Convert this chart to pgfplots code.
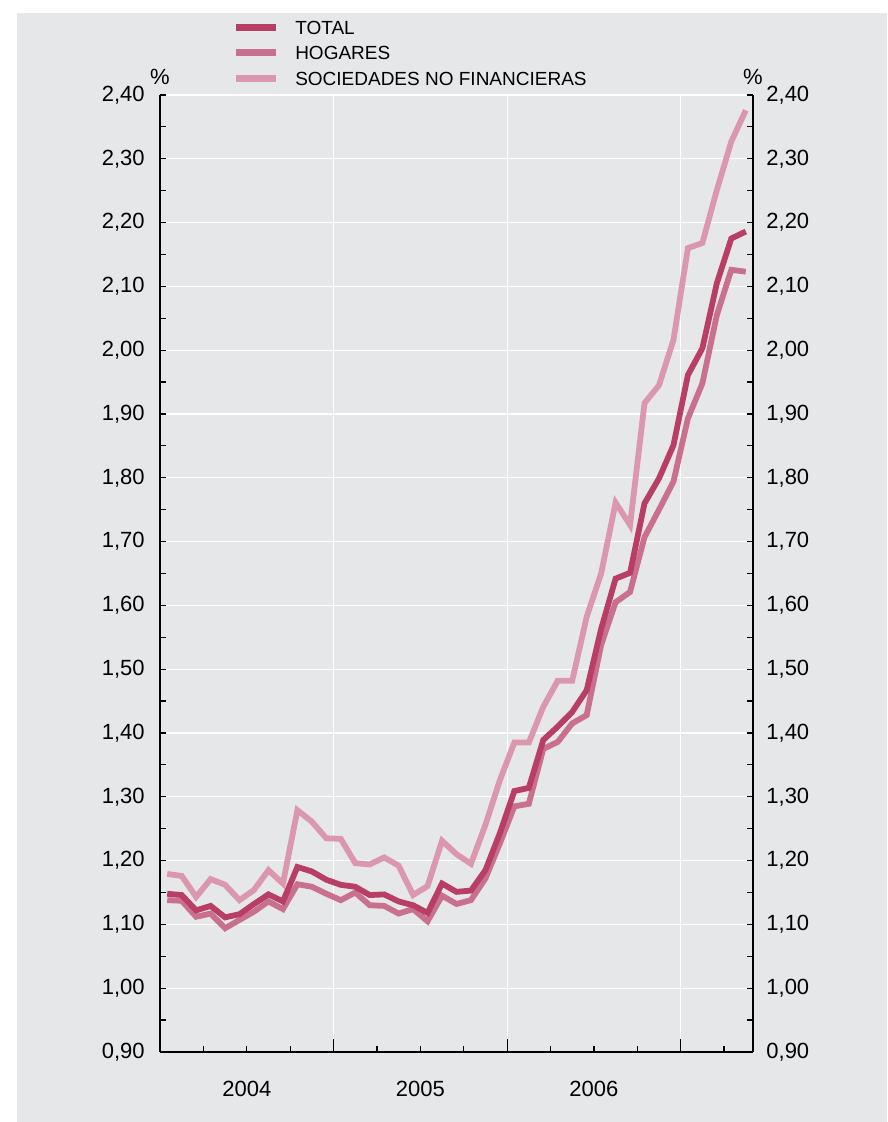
\documentclass[border=0pt]{standalone}
\usepackage{fontspec}
\setmainfont{Liberation Sans}
\usepackage{pgfplots}
\usepackage{pgfplotstable}
\pgfplotsset{compat=1.18}
\definecolor{bg}{HTML}{E6E7E8}
\definecolor{ctot}{HTML}{B83E65}
\definecolor{chog}{HTML}{C9708E}
\definecolor{csoc}{HTML}{DB97AE}

\pgfplotstableread{
x     tot    hog    soc
0.5   1.148  1.138  1.179
1.5   1.146  1.137  1.176
2.5   1.122  1.112  1.143
3.5   1.129  1.117  1.171
4.5   1.111  1.094  1.162
5.5   1.116  1.107  1.138
6.5   1.132  1.120  1.154
7.5   1.147  1.136  1.185
8.5   1.136  1.124  1.164
9.5   1.190  1.163  1.279
10.5  1.183  1.159  1.261
11.5  1.170  1.148  1.235
12.5  1.162  1.138  1.234
13.5  1.159  1.150  1.196
14.5  1.146  1.130  1.194
15.5  1.147  1.129  1.205
16.5  1.136  1.117  1.192
17.5  1.130  1.124  1.146
18.5  1.118  1.105  1.160
19.5  1.164  1.145  1.231
20.5  1.151  1.132  1.210
21.5  1.153  1.138  1.195
22.5  1.185  1.172  1.256
23.5  1.243  1.227  1.326
24.5  1.309  1.285  1.385
25.5  1.314  1.289  1.385
26.5  1.389  1.375  1.441
27.5  1.410  1.386  1.482
28.5  1.433  1.415  1.482
29.5  1.467  1.428  1.582
30.5  1.563  1.538  1.650
31.5  1.642  1.605  1.761
32.5  1.651  1.621  1.726
33.5  1.760  1.707  1.917
34.5  1.799  1.750  1.945
35.5  1.851  1.794  2.016
36.5  1.961  1.893  2.160
37.5  2.003  1.948  2.168
38.5  2.105  2.055  2.251
39.5  2.175  2.126  2.327
40.5  2.186  2.123  2.376
}\datatable

\pgfplotsset{
  commonaxis/.style={
    at={(80pt,35pt)}, anchor=south west,
    scale only axis, width=296.5pt, height=478.5pt,
    xmin=0, xmax=41, ymin=0.9, ymax=2.4,
    tick align=inside,
    major tick length=3pt, minor tick length=3pt,
    ytick={0.9,1,1.1,1.2,1.3,1.4,1.5,1.6,1.7,1.8,1.9,2,2.1,2.2,2.3,2.4},
    minor y tick num=1,
    axis line style={black, line width=0.75pt},
    tick style={black, line width=0.6pt},
    /pgf/number format/assume math mode=true,
    yticklabel style={/pgf/number format/fixed, /pgf/number format/fixed zerofill, /pgf/number format/precision=2, /pgf/number format/use comma},
    ticklabel style={font=\fontsize{11}{13}\selectfont},
  }
}

\begin{document}
\begin{tikzpicture}[x=1pt,y=1pt]
\fill[white] (0,0) rectangle (443.5,561);
\fill[bg] (8.5,0) rectangle (443.5,554.5);
\begin{axis}[
  commonaxis,
  axis x line*=bottom, axis y line*=left,
  tick align=inside,
  xtick={6,18,30}, xticklabels={2004,2005,2006},
  minor xtick={3,9,15,21,27,33,39},
  extra x ticks={12,24,36}, extra x tick labels={},
  extra x tick style={major tick length=6.75pt, grid=major},
  ymajorgrids=true,
  grid style={white, line width=0.6pt},
  xticklabel style={inner ysep=0pt, yshift=-14.5pt},
  yticklabel style={inner xsep=0pt, xshift=-7.5pt},
  clip mode=individual,
  legend style={draw=none, fill=none, inner sep=0pt,
    at={(axis description cs:0.1215,1.0844)}, anchor=north west,
    font=\fontsize{9.5}{11}\selectfont, cells={anchor=west},
    nodes={inner xsep=3pt, inner ysep=2.875pt, text height=7pt, text depth=0pt},
    row sep=0pt,
    /tikz/every odd column/.append style={column sep=5pt}},
  legend image code/.code={\draw[#1, line width=3.4pt, line cap=butt] (0pt,0pt) -- (20pt,0pt);},
  reverse legend,
]
\addplot[csoc, line width=2.9pt] table[x=x, y=soc] {\datatable};
\addlegendentry{SOCIEDADES NO FINANCIERAS}
\addplot[chog, line width=2.9pt] table[x=x, y=hog] {\datatable};
\addlegendentry{HOGARES}
\addplot[ctot, line width=2.9pt] table[x=x, y=tot] {\datatable};
\addlegendentry{TOTAL}
\node[font=\fontsize{11}{13}\selectfont, inner sep=0pt] at (rel axis cs:0,1) [yshift=9pt] {\%};
\node[font=\fontsize{11}{13}\selectfont, inner sep=0pt] at (rel axis cs:1,1) [yshift=9pt] {\%};
\end{axis}
\begin{axis}[
  commonaxis,
  axis y line*=right, axis x line=none,
  yticklabel style={inner xsep=0pt, xshift=6.5pt},
]
\end{axis}
\end{tikzpicture}
\end{document}
